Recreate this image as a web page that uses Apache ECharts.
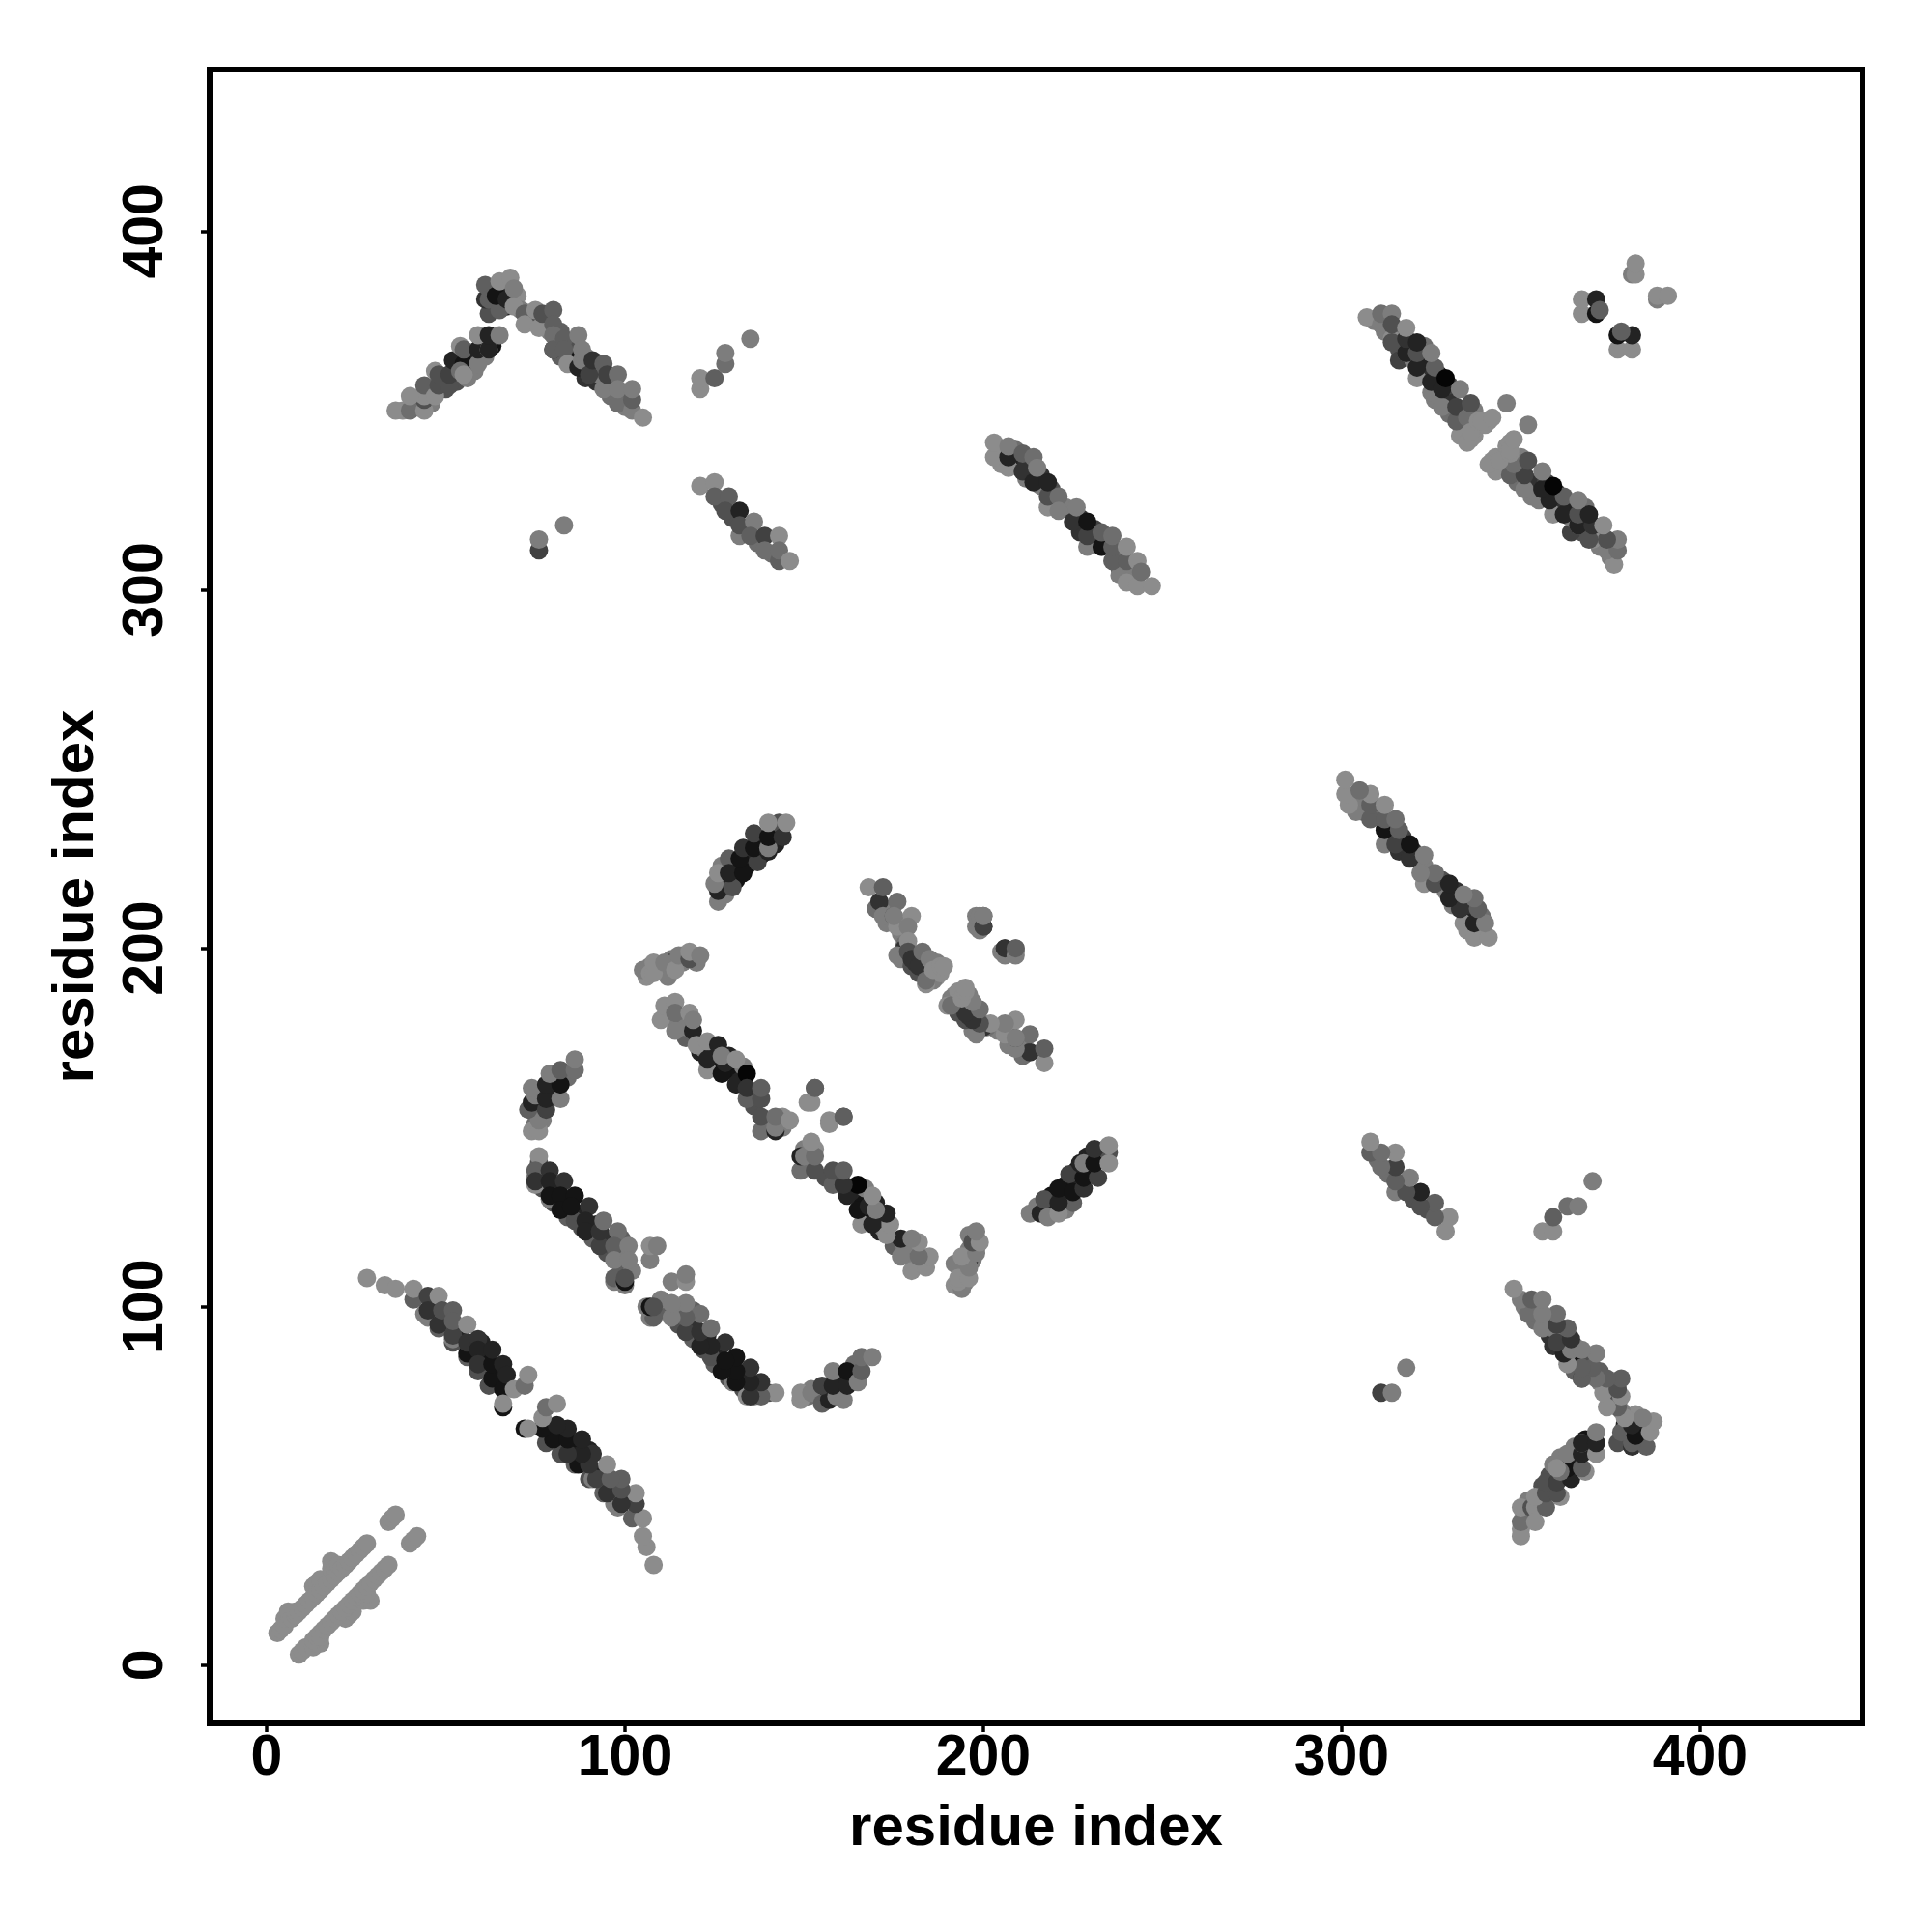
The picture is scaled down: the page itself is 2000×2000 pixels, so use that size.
<!DOCTYPE html>
<html>
<head>
<meta charset="utf-8">
<style>html,body{margin:0;padding:0;background:#fff}#c{width:2000px;height:2000px}</style>
<script src="https://cdn.jsdelivr.net/npm/echarts@6/dist/echarts.min.js"></script>
</head>
<body>
<div id="c"></div>
<script>
// Contacts: [residue i, residue j, score]; the map is symmetric in i and j.
const tickValues = [0, 100, 200, 300, 400];
const axisName = 'residue index';
const nearDiagonal = [[3,9,9],[4,10,9],[5,11,9],[5,13,9],[6,14,9],[6,15,9],[7,13,9],[8,14,9],[8,15,9],[9,15,9],[10,16,9],[11,17,9],[12,18,9],[13,19,9],[13,22,9],[14,20,9],[14,23,9],[15,21,9],[15,24,9],[16,22,9],[17,23,9],[18,24,9],[18,27,9],[18,29,9],[19,25,9],[19,27,9],[20,26,9],[20,28,9],[21,27,9],[22,28,9],[23,29,9],[24,30,9],[25,31,9],[26,32,9],[27,33,9],[28,34,9],[34,40,9],[35,41,9],[36,42,9]];
const sheetA = [[46,100,3],[50,97,4],[54,93,2],[57,89,1],[61,86,1],[65,82,1],[64,79,1],[60,90,2],[45,97,8],[48,94,6],[52,90,5],[52,91,8],[56,86,6],[60,83,5],[59,82,5],[62,78,5],[28,108,9],[33,106,9],[36,105,9],[41,102,6],[41,105,9],[44,98,8],[45,103,4],[45,99,3],[48,95,3],[48,103,9],[49,99,5],[52,92,4],[52,99,6],[52,96,6],[56,87,1],[56,90,3],[56,95,9],[59,91,3],[59,88,2],[59,84,3],[63,80,1],[63,84,1],[63,88,2],[66,84,2],[66,77,1],[67,81,2],[66,72,1],[66,73,9],[69,77,9],[72,78,7],[73,81,9]];
const sheetB = [[75,136,8],[77,133,5],[80,129,5],[84,125,6],[84,129,1],[87,126,2],[88,122,5],[91,119,6],[92,123,2],[95,119,3],[95,115,5],[99,115,8],[99,119,6],[99,111,6],[102,110,8],[76,140,5],[81,133,2],[76,142,9],[75,138,6],[75,134,9],[75,135,3],[79,138,3],[79,135,2],[83,135,3],[79,130,8],[79,131,1],[82,131,1],[86,131,1],[82,127,1],[86,124,5],[85,128,1],[90,128,3],[89,124,2],[89,121,2],[93,117,4],[93,121,3],[94,124,7],[98,121,7],[97,117,6],[101,117,8],[97,107,8],[97,113,8],[101,113,8],[97,108,6],[100,106,8],[100,107,1],[100,108,5],[107,113,8],[107,117,9],[109,117,8]];
const shoulderB = [[75,151,7],[77,155,5],[76,158,1],[80,160,2],[80,163,3],[77,152,8],[84,164,7],[76,154,2],[74,149,9],[76,149,9],[76,152,8],[73,155,6],[74,157,2],[75,159,8],[74,161,8],[78,155,4],[78,158,2],[78,162,2],[82,158,8],[82,162,1],[79,165,8],[82,166,6],[86,166,7],[86,169,8]];
const sheetC = [[112,181,8],[112,183,9],[116,179,7],[117,175,6],[117,178,8],[121,171,2],[122,172,8],[124,171,2],[125,167,1],[129,166,1],[129,170,2],[132,163,2],[133,167,8],[136,160,3],[136,156,5],[140,151,6],[144,150,8],[144,153,9],[110,180,9],[111,184,9],[114,185,9],[114,177,8],[114,182,7],[118,182,9],[119,177,2],[119,180,8],[120,173,9],[123,174,9],[123,166,9],[123,169,2],[126,173,2],[127,165,1],[128,168,2],[127,170,8],[131,162,2],[131,169,9],[134,165,0],[134,158,6],[134,161,3],[138,149,7],[138,153,5],[138,158,5],[138,161,6],[142,149,2],[142,150,8],[142,153,7],[146,152,9],[151,157,9],[153,161,6],[157,152,9],[161,153,6]];
const sheetD = [[127,219,2],[128,215,8],[131,219,1],[134,223,1],[135,226,2],[138,226,1],[138,230,3],[142,229,2],[142,232,8],[130,222,1],[142,234,5],[144,234,9],[127,223,8],[126,213,8],[126,216,2],[125,218,8],[126,221,9],[129,225,6],[130,217,5],[129,221,2],[133,221,1],[132,225,1],[133,228,3],[137,224,4],[136,228,1],[136,232,4],[140,227,2],[140,228,8],[140,231,1],[143,235,5],[144,231,3],[140,235,9],[145,235,9]];
const sheetE = [[106,192,9],[107,195,8],[109,194,8],[110,194,9],[112,194,8],[113,197,8],[116,196,8],[116,198,9],[119,198,5],[120,196,8],[112,192,8],[105,194,8],[107,193,9],[108,193,9],[108,196,9],[113,196,2],[111,196,8],[114,194,9],[115,198,8],[118,197,5],[118,199,9],[121,198,8]];
const sheetG = [[170,211,7],[174,211,8],[173,207,8],[177,204,8],[178,207,9],[178,201,7],[177,197,8],[180,195,5],[181,198,8],[182,193,5],[183,195,3],[178,200,3],[181,196,3],[184,197,9],[185,193,6],[187,192,9],[187,196,8],[186,191,8],[188,193,9],[168,217,9],[171,213,3],[172,217,6],[172,209,8],[175,209,5],[176,213,7],[176,206,9],[175,209,8],[180,209,9],[179,206,8],[179,202,9],[176,198,8],[179,199,5],[180,197,3],[182,195,3],[183,199,7],[184,190,9],[184,191,7],[185,197,8],[186,194,9],[188,195,9],[189,195,9]];
const islandG = [[198,206,8],[200,206,3],[198,209,8],[200,209,6],[205,199,8],[209,199,8],[206,200,4],[209,200,8]];
const sheetH = [[38,350,9],[42,351,8],[42,353,7],[46,352,8],[46,356,5],[49,358,3],[50,356,5],[53,358,5],[53,362,2],[57,361,3],[57,365,1],[56,359,8],[57,363,2],[58,361,8],[61,365,8],[60,369,2],[63,369,8],[63,368,1],[36,350,9],[40,350,7],[44,350,9],[44,353,5],[44,354,9],[40,354,9],[44,357,6],[47,361,9],[47,354,9],[48,357,5],[48,360,5],[51,357,5],[51,360,4],[52,364,2],[55,363,1],[54,361,7],[55,360,9],[54,368,9],[55,367,6],[59,363,8],[59,367,2],[59,371,9],[62,367,9],[62,367,2],[62,371,2],[65,371,8]];
const ridgeH = [[63,384,7],[63,379,5],[66,384,1],[66,380,1],[67,379,2],[68,382,2],[70,382,9],[71,378,8],[73,375,8],[74,377,8],[75,375,5],[78,375,9],[79,372,8],[81,368,6],[82,372,6],[82,365,6],[85,365,3],[85,369,5],[86,364,1],[89,362,1],[89,359,3],[89,365,8],[92,362,1],[92,358,3],[93,360,8],[96,354,7],[96,358,8],[100,355,8],[100,351,8],[100,353,7],[62,377,5],[61,381,3],[61,385,6],[62,381,6],[65,378,6],[64,382,1],[65,386,9],[67,381,2],[68,387,9],[69,384,8],[69,379,9],[72,377,6],[72,374,9],[75,378,9],[76,373,9],[77,377,5],[80,378,6],[80,374,6],[80,367,3],[80,371,7],[80,367,6],[83,370,6],[83,367,6],[84,363,9],[87,362,2],[87,371,8],[88,364,8],[88,367,8],[90,360,4],[91,364,3],[94,356,8],[94,363,6],[95,360,4],[98,360,7],[98,352,7],[98,356,8],[102,350,8],[102,353,6],[102,356,8],[105,348,9]];
const islandH = [[76,311,4],[76,314,8],[83,318,8],[121,356,9],[121,359,9],[125,359,6],[128,363,7],[128,366,8],[135,370,8]];
const sheetJ = [[127,324,5],[130,320,5],[134,317,5],[137,313,7],[141,310,7],[121,329,9],[125,330,9],[125,326,6],[129,326,6],[128,322,5],[132,322,2],[132,315,8],[132,318,5],[136,319,8],[135,315,6],[139,315,4],[139,311,7],[143,315,9],[143,308,6],[143,311,7],[146,308,9]];
const sheetK = [[205,338,9],[205,335,9],[209,335,2],[209,339,7],[212,335,3],[216,329,8],[216,332,3],[219,328,5],[220,324,8],[223,323,8],[227,320,3],[227,316,3],[231,314,2],[231,317,4],[235,313,2],[238,310,7],[238,306,6],[238,304,8],[241,304,8],[242,306,8],[212,331,8],[203,337,9],[203,341,9],[207,334,9],[207,337,2],[207,340,8],[211,333,3],[211,338,6],[214,337,7],[214,330,2],[215,334,8],[218,323,9],[218,326,5],[218,330,2],[221,326,7],[221,322,8],[225,319,3],[226,323,8],[229,312,8],[229,315,4],[229,319,1],[233,312,9],[233,312,1],[233,316,6],[236,308,6],[236,312,6],[236,315,7],[240,302,9],[240,308,6],[240,312,9],[243,301,9],[243,308,9],[244,305,7],[247,301,9]];
const sheetL = [[309,375,8],[312,372,8],[316,371,4],[316,367,5],[316,364,4],[319,368,2],[320,364,8],[323,364,2],[323,360,3],[323,368,7],[327,357,1],[327,360,2],[326,353,8],[330,353,3],[330,357,4],[330,349,7],[333,350,7],[334,345,8],[333,343,9],[336,342,9],[337,343,9],[337,350,8],[340,346,9],[341,347,9],[307,376,9],[311,374,8],[311,377,7],[314,377,8],[314,370,9],[314,369,5],[314,374,5],[318,366,8],[318,366,2],[318,370,3],[318,373,9],[321,359,9],[321,362,2],[321,366,5],[321,369,2],[325,355,8],[325,358,2],[326,362,6],[325,366,8],[328,351,8],[328,356,2],[329,359,0],[332,347,6],[332,351,4],[333,356,8],[335,341,9],[335,348,7],[336,344,9],[336,352,5],[338,347,9],[339,347,9],[342,348,9],[346,352,8]];
const islandL = [[367,377,9],[367,381,9],[371,377,1],[371,381,2],[372,378,6],[381,388,8],[382,388,9],[382,391,9]];
const contactLists = [nearDiagonal, sheetA, sheetB, shoulderB, sheetC, sheetD, sheetE, sheetG, islandG, sheetH, ridgeH, islandH, sheetJ, sheetK, sheetL, islandL];

const points = [];
contactLists.forEach(function (list) {
  list.forEach(function (c) { points.push([c[0], c[1], c[2]]); });
  list.forEach(function (c) { points.push([c[1], c[0], c[2]]); });
});
const fontFamily = '"Liberation Sans", Arial, sans-serif';
const textStyle = { color: '#000', fontFamily: fontFamily, fontWeight: 'bold', fontSize: 59 };
const nameStyle = { color: '#000', fontFamily: fontFamily, fontWeight: 'bold', fontSize: 60 };
function axis(nameGap, margin, rotate, min, max) {
  return {
    type: 'value', min: min, max: max, name: axisName, nameLocation: 'middle', nameGap: nameGap,
    nameTextStyle: nameStyle, splitLine: { show: false }, axisLine: { show: false, onZero: false },
    axisTick: { show: true, customValues: tickValues, length: 9, lineStyle: { color: '#000', width: 3.5 } },
    axisLabel: Object.assign({ customValues: tickValues, margin: margin, rotate: rotate }, textStyle)
  };
}
const chart = echarts.init(document.getElementById('c'), null, { renderer: 'canvas' });
chart.setOption({
  animation: false,
  backgroundColor: '#fff',
  grid: { left: 217, right: 72, top: 72, bottom: 216, show: true, borderWidth: 6, borderColor: '#000', backgroundColor: 'transparent' },
  xAxis: axis(79, 7, 0, -15.9, 445.3),
  yAxis: axis(108, 36, 90, -16.2, 445.1),
  series: [{
    type: 'scatter', symbolSize: 19, data: points,
    itemStyle: { opacity: 1, color: function (p) { const g = 5 + 15 * p.value[2]; return 'rgb(' + g + ',' + g + ',' + g + ')'; } }
  }]
});
</script>
</body>
</html>
